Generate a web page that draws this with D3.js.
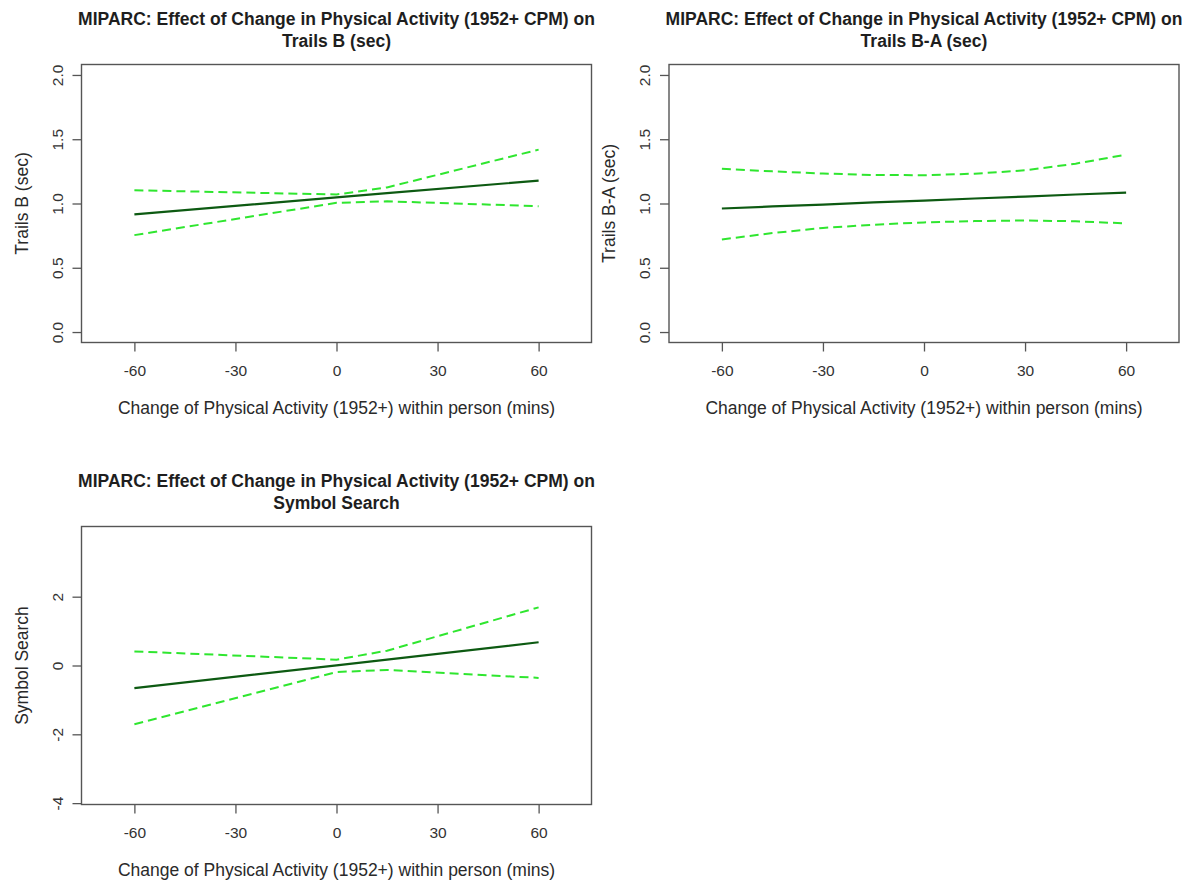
<html>
<head>
<meta http-equiv="Content-type" content="text/html;charset=UTF-8">
<title>MIPARC: Effect of Change in Physical Activity</title>
<script src="https://d3js.org/d3.v7.min.js"></script>
<style>
    body {
        margin: 0;
        background: #ffffff;
        font-family: 'Liberation Sans', Arial, sans-serif;
    }
</style>
</head>
<body>
<div id="chart"></div>

<script type="text/javascript">
    // ***** DATA *****
    // x axis (minutes of change in physical activity)
    var xTicks = [-60, -30, 0, 30, 60];

    // Trails B (sec)
    var trailsBX = [-60, 0, 15, 60];
    var trailsBFit = [0.915, 1.047, 1.080, 1.178];
    var trailsBUpper = [1.103, 1.070, 1.125, 1.419];
    var trailsBLower = [0.754, 1.005, 1.017, 0.979];

    // Trails B-A (sec)
    var trailsBAX = [-60, -45, -30, -15, 0, 15, 30, 45, 60];
    var trailsBAFit = [0.961, 0.977, 0.992, 1.008, 1.023, 1.039, 1.054, 1.070, 1.085];
    var trailsBAUpper = [1.270, 1.250, 1.233, 1.222, 1.220, 1.232, 1.258, 1.310, 1.380];
    var trailsBALower = [0.720, 0.770, 0.810, 0.835, 0.853, 0.863, 0.868, 0.862, 0.845];

    // Symbol Search
    var symbolX = [-60, 0, 15, 60];
    var symbolFit = [-0.66, 0.005, 0.17, 0.675];
    var symbolUpper = [0.41, 0.17, 0.43, 1.69];
    var symbolLower = [-1.71, -0.19, -0.13, -0.36];

    // y axis ticks
    var trailsTicks = [0, 0.5, 1, 1.5, 2];
    var symbolTicks = [-4, -2, 0, 2];

    // ***** LAYOUT *****
    var boxWidth = 510;
    var boxHeight = 278;
    var xDomain = [-75.7, 75.7];
    var titleLine1 = 'MIPARC: Effect of Change in Physical Activity (1952+ CPM) on';
    var xLabel = 'Change of Physical Activity (1952+) within person (mins)';

    var svg = d3.select('#chart')
        .append('svg')
        .attr('width', 1198)
        .attr('height', 880);

    // plain hyphen minus, like R prints it
    function fmtInt(d) { return String(d); }
    function fmt1(d) { return d.toFixed(1); }

    function drawPanel(p) {
        var x = d3.scaleLinear().domain(xDomain).range([p.left, p.left + boxWidth]);
        var y = d3.scaleLinear().domain(p.yDomain).range([p.top + boxHeight, p.top]);
        var g = svg.append('g');

        // titles
        g.append('text')
            .attr('x', p.left + boxWidth / 2)
            .attr('y', p.top - 40)
            .attr('text-anchor', 'middle')
            .style('font-size', '17.5px')
            .style('font-weight', 'bold')
            .style('fill', '#1e1e1e')
            .text(titleLine1);
        g.append('text')
            .attr('x', p.left + boxWidth / 2)
            .attr('y', p.top - 18)
            .attr('text-anchor', 'middle')
            .style('font-size', '17.5px')
            .style('font-weight', 'bold')
            .style('fill', '#1e1e1e')
            .text(p.title2);

        // x axis
        var xAxis = g.append('g')
            .attr('transform', 'translate(0,' + (p.top + boxHeight) + ')')
            .call(d3.axisBottom(x).tickValues(xTicks).tickFormat(fmtInt).tickSize(9).tickPadding(13).tickSizeOuter(0));
        xAxis.select('.domain').remove();
        xAxis.selectAll('line').attr('stroke', '#555').attr('stroke-width', 1.3);
        xAxis.selectAll('text')
            .style('font-family', "'Liberation Sans', Arial, sans-serif")
            .style('font-size', '15.5px')
            .style('fill', '#333');

        // y axis (labels turned like R's las=0)
        var yAxis = g.append('g')
            .attr('transform', 'translate(' + p.left + ',0)')
            .call(d3.axisLeft(y).tickValues(p.yTicks).tickFormat(p.fmt).tickSize(9).tickSizeOuter(0));
        yAxis.select('.domain').remove();
        yAxis.selectAll('line').attr('stroke', '#555').attr('stroke-width', 1.3);
        yAxis.selectAll('text')
            .attr('x', 0)
            .attr('dy', 0)
            .attr('text-anchor', 'middle')
            .attr('transform', 'translate(-19,0) rotate(-90)')
            .style('font-family', "'Liberation Sans', Arial, sans-serif")
            .style('font-size', '15.5px')
            .style('fill', '#333');

        // axis titles
        g.append('text')
            .attr('x', p.left + boxWidth / 2)
            .attr('y', p.top + boxHeight + 71)
            .attr('text-anchor', 'middle')
            .style('font-size', '17.5px')
            .style('fill', '#2a2a2a')
            .text(xLabel);
        g.append('text')
            .attr('transform', 'translate(' + (p.left - 54) + ',' + (p.top + boxHeight / 2) + ') rotate(-90)')
            .attr('text-anchor', 'middle')
            .style('font-size', '17.5px')
            .style('fill', '#2a2a2a')
            .text(p.yLabel);

        // lines
        var line = d3.line()
            .x(function(d, i) { return x(p.xs[i]); })
            .y(function(d) { return y(d); });

        [p.upper, p.lower].forEach(function(band) {
            g.append('path')
                .attr('d', line(band))
                .attr('fill', 'none')
                .attr('stroke', '#2fe62f')
                .attr('stroke-width', 2)
                .attr('stroke-dasharray', '9,5');
        });
        g.append('path')
            .attr('d', line(p.fit))
            .attr('fill', 'none')
            .attr('stroke', '#0d5a12')
            .attr('stroke-width', 2.2);

        // plot box
        g.append('rect')
            .attr('x', p.left)
            .attr('y', p.top)
            .attr('width', boxWidth)
            .attr('height', boxHeight)
            .attr('fill', 'none')
            .attr('stroke', '#555')
            .attr('stroke-width', 1.4);
    }

    drawPanel({ left: 81.5, top: 64.5, title2: 'Trails B (sec)', yLabel: 'Trails B (sec)',
                yDomain: [-0.0814, 2.0814], yTicks: trailsTicks, fmt: fmt1,
                xs: trailsBX, fit: trailsBFit, upper: trailsBUpper, lower: trailsBLower });

    drawPanel({ left: 669, top: 64.5, title2: 'Trails B-A (sec)', yLabel: 'Trails B-A (sec)',
                yDomain: [-0.0814, 2.0814], yTicks: trailsTicks, fmt: fmt1,
                xs: trailsBAX, fit: trailsBAFit, upper: trailsBAUpper, lower: trailsBALower });

    drawPanel({ left: 81.5, top: 526.5, title2: 'Symbol Search', yLabel: 'Symbol Search',
                yDomain: [-4.04, 4.04], yTicks: symbolTicks, fmt: fmtInt,
                xs: symbolX, fit: symbolFit, upper: symbolUpper, lower: symbolLower });
</script>
</body>
</html>
